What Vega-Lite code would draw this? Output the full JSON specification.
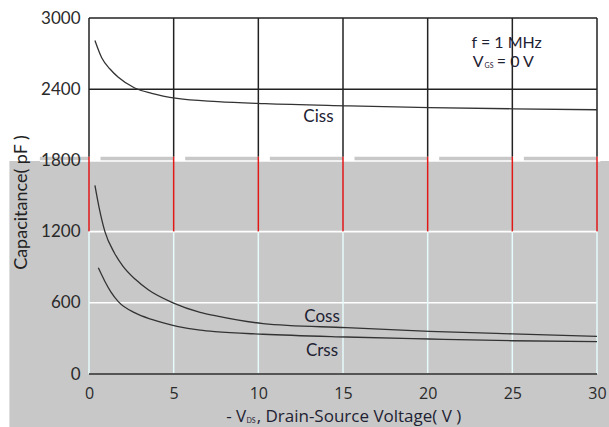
{
  "$schema": "https://vega.github.io/schema/vega-lite/v6.json",
  "width": 508,
  "height": 356,
  "autosize": {"type": "none"},
  "padding": {"left": 89, "top": 18, "right": 12, "bottom": 53},
  "background": "white",
  "config": {"view": {"stroke": null}, "font": "Lato"},
  "datasets": {
    "curves": [
      {"series": "Ciss", "x": 0.35, "y": 2810},
      {"series": "Ciss", "x": 0.75, "y": 2665},
      {"series": "Ciss", "x": 1.24, "y": 2570},
      {"series": "Ciss", "x": 1.73, "y": 2500},
      {"series": "Ciss", "x": 2.7, "y": 2410},
      {"series": "Ciss", "x": 3.7, "y": 2365},
      {"series": "Ciss", "x": 5.2, "y": 2322},
      {"series": "Ciss", "x": 7.6, "y": 2295},
      {"series": "Ciss", "x": 10.4, "y": 2278},
      {"series": "Ciss", "x": 15.2, "y": 2260},
      {"series": "Ciss", "x": 20.1, "y": 2245},
      {"series": "Ciss", "x": 25, "y": 2235},
      {"series": "Ciss", "x": 30, "y": 2227},
      {"series": "Coss", "x": 0.35, "y": 1589},
      {"series": "Coss", "x": 0.6, "y": 1400},
      {"series": "Coss", "x": 0.94, "y": 1200},
      {"series": "Coss", "x": 1.5, "y": 1020},
      {"series": "Coss", "x": 2.0, "y": 910},
      {"series": "Coss", "x": 2.72, "y": 800},
      {"series": "Coss", "x": 3.5, "y": 710},
      {"series": "Coss", "x": 4.96, "y": 600},
      {"series": "Coss", "x": 6.56, "y": 520},
      {"series": "Coss", "x": 7.44, "y": 492},
      {"series": "Coss", "x": 10.28, "y": 425},
      {"series": "Coss", "x": 15.2, "y": 390},
      {"series": "Coss", "x": 20.1, "y": 360},
      {"series": "Coss", "x": 25, "y": 338},
      {"series": "Coss", "x": 30, "y": 317},
      {"series": "Crss", "x": 0.55, "y": 895},
      {"series": "Crss", "x": 0.94, "y": 780},
      {"series": "Crss", "x": 1.3, "y": 690},
      {"series": "Crss", "x": 1.73, "y": 610},
      {"series": "Crss", "x": 2.72, "y": 515},
      {"series": "Crss", "x": 3.7, "y": 460},
      {"series": "Crss", "x": 5.2, "y": 402},
      {"series": "Crss", "x": 6.56, "y": 370},
      {"series": "Crss", "x": 7.44, "y": 357},
      {"series": "Crss", "x": 10.28, "y": 335},
      {"series": "Crss", "x": 15.2, "y": 312},
      {"series": "Crss", "x": 20.1, "y": 295},
      {"series": "Crss", "x": 25, "y": 280},
      {"series": "Crss", "x": 30, "y": 272}
    ],
    "grid": [{"v": 0}, {"v": 5}, {"v": 10}, {"v": 15}, {"v": 20}, {"v": 25}, {"v": 30}],
    "gaps": [
      {"a": 0, "b": 0.68}, {"a": 5, "b": 5.68}, {"a": 10, "b": 10.68},
      {"a": 15, "b": 15.68}, {"a": 20, "b": 20.68}, {"a": 25, "b": 25.68}
    ],
    "whiteLines": [{"h": 600}, {"h": 1200}],
    "blackLines": [{"h": 2400}, {"h": 3000}],
    "one": [{}]
  },
  "layer": [
    {
      "data": {"name": "curves"},
      "mark": {"type": "line", "color": "#333333", "strokeWidth": 1.3, "interpolate": "monotone", "opacity": 0},
      "encoding": {
        "x": {
          "field": "x", "type": "quantitative",
          "scale": {"domain": [0, 30], "nice": false, "zero": false},
          "axis": {
            "values": [0, 5, 10, 15, 20, 25, 30], "title": null, "grid": false, "domain": false, "ticks": false,
            "labelFont": "Open Sans", "labelFontSize": 16, "labelColor": "#2a2a2a", "labelPadding": 11, "labelFlush": false, "zindex": 1
          }
        },
        "y": {
          "field": "y", "type": "quantitative",
          "scale": {"domain": [0, 3000], "nice": false},
          "axis": {
            "values": [0, 600, 1200, 1800, 2400, 3000], "format": "d", "title": "Capacitance( pF )",
            "titleFont": "Lato", "titleFontSize": 18, "titleFontWeight": "normal", "titleColor": "#222222",
            "titleX": -63, "titleY": 184, "titleAngle": 270, "titleAlign": "center", "titleBaseline": "alphabetic",
            "grid": false, "domain": false, "ticks": false,
            "labelFont": "Lato", "labelFontSize": 17, "labelColor": "#2a2a2a", "labelPadding": 9, "labelFlush": false, "zindex": 1
          }
        },
        "detail": {"field": "series", "type": "nominal"}
      }
    },
    {
      "data": {"name": "one"},
      "mark": {"type": "rect", "color": "#c8c8c8"},
      "encoding": {
        "x": {"datum": -4.7, "type": "quantitative"},
        "x2": {"datum": 31},
        "y": {"datum": -700, "type": "quantitative"},
        "y2": {"datum": 1795}
      }
    },
    {
      "data": {"name": "one"},
      "mark": {"type": "rect", "color": "#c8c8c8"},
      "encoding": {
        "x": {"datum": -2.9, "type": "quantitative"},
        "x2": {"datum": 30},
        "y": {"datum": 1795, "type": "quantitative"},
        "y2": {"datum": 1831}
      }
    },
    {
      "data": {"name": "gaps"},
      "mark": {"type": "rect", "color": "white"},
      "encoding": {
        "x": {"field": "a", "type": "quantitative"},
        "x2": {"field": "b"},
        "y": {"datum": 1795, "type": "quantitative"},
        "y2": {"datum": 1838}
      }
    },
    {
      "data": {"name": "one"},
      "mark": {"type": "rule", "color": "white", "strokeWidth": 1.6},
      "encoding": {
        "x": {"datum": -2.9, "type": "quantitative"},
        "x2": {"datum": 30.2},
        "y": {"datum": 1795, "type": "quantitative"}
      }
    },
    {
      "data": {"name": "whiteLines"},
      "mark": {"type": "rule", "color": "white", "strokeWidth": 1.6},
      "encoding": {
        "x": {"datum": 0, "type": "quantitative"},
        "x2": {"datum": 30},
        "y": {"field": "h", "type": "quantitative"}
      }
    },
    {
      "data": {"name": "grid"},
      "mark": {"type": "rule", "color": "#222222", "strokeWidth": 1.5},
      "encoding": {
        "x": {"field": "v", "type": "quantitative"},
        "y": {"datum": 1831, "type": "quantitative"},
        "y2": {"datum": 3000}
      }
    },
    {
      "data": {"name": "grid"},
      "mark": {"type": "rule", "color": "#e01818", "strokeWidth": 1.5},
      "encoding": {
        "x": {"field": "v", "type": "quantitative"},
        "y": {"datum": 1200, "type": "quantitative"},
        "y2": {"datum": 1831}
      }
    },
    {
      "data": {"name": "grid"},
      "mark": {"type": "rule", "color": "#e6fbfb", "strokeWidth": 1.5},
      "encoding": {
        "x": {"field": "v", "type": "quantitative"},
        "y": {"datum": 0, "type": "quantitative"},
        "y2": {"datum": 1200}
      }
    },
    {
      "data": {"name": "blackLines"},
      "mark": {"type": "rule", "color": "#222222", "strokeWidth": 1.5},
      "encoding": {
        "x": {"datum": 0, "type": "quantitative"},
        "x2": {"datum": 30},
        "y": {"field": "h", "type": "quantitative"}
      }
    },
    {
      "data": {"name": "one"},
      "mark": {"type": "rule", "color": "#555555", "strokeWidth": 2},
      "encoding": {
        "x": {"datum": 0, "type": "quantitative"},
        "x2": {"datum": 30},
        "y": {"datum": 0, "type": "quantitative"}
      }
    },
    {
      "data": {"name": "curves"},
      "mark": {"type": "line", "color": "#333333", "strokeWidth": 1.3, "interpolate": "monotone"},
      "encoding": {
        "x": {"field": "x", "type": "quantitative"},
        "y": {"field": "y", "type": "quantitative"},
        "detail": {"field": "series", "type": "nominal"}
      }
    },
    {
      "data": {"values": [
        {"label": "Ciss", "x": 13.55, "y": 2126},
        {"label": "Coss", "x": 13.76, "y": 436},
        {"label": "Crss", "x": 13.76, "y": 154}
      ]},
      "mark": {"type": "text", "fontSize": 17, "font": "Lato", "color": "#1e2233", "align": "center", "baseline": "alphabetic"},
      "encoding": {
        "x": {"field": "x", "type": "quantitative"},
        "y": {"field": "y", "type": "quantitative"},
        "text": {"field": "label"}
      }
    },
    {
      "data": {"values": [
        {"label": "f = 1 MHz", "x": 22.59, "y": 2750},
        {"label": "V", "x": 22.66, "y": 2590},
        {"label": "= 0 V", "x": 24.08, "y": 2590}
      ]},
      "mark": {"type": "text", "fontSize": 16, "font": "Lato", "color": "#1e2233", "align": "left", "baseline": "alphabetic"},
      "encoding": {
        "x": {"field": "x", "type": "quantitative"},
        "y": {"field": "y", "type": "quantitative"},
        "text": {"field": "label"}
      }
    },
    {
      "data": {"values": [
        {"label": "- V", "x": 8.1, "y": -407},
        {"label": ", Drain-Source Voltage( V )", "x": 9.9, "y": -407}
      ]},
      "mark": {"type": "text", "fontSize": 17, "font": "Open Sans", "color": "#1e2233", "align": "left", "baseline": "alphabetic"},
      "encoding": {
        "x": {"field": "x", "type": "quantitative"},
        "y": {"field": "y", "type": "quantitative"},
        "text": {"field": "label"}
      }
    },
    {
      "data": {"values": [
        {"label": "GS", "x": 23.36, "y": 2578},
        {"label": "DS", "x": 9.3, "y": -413}
      ]},
      "mark": {"type": "text", "fontSize": 7, "font": "Lato", "color": "#1e2233", "align": "left", "baseline": "alphabetic"},
      "encoding": {
        "x": {"field": "x", "type": "quantitative"},
        "y": {"field": "y", "type": "quantitative"},
        "text": {"field": "label"}
      }
    }
  ]
}
